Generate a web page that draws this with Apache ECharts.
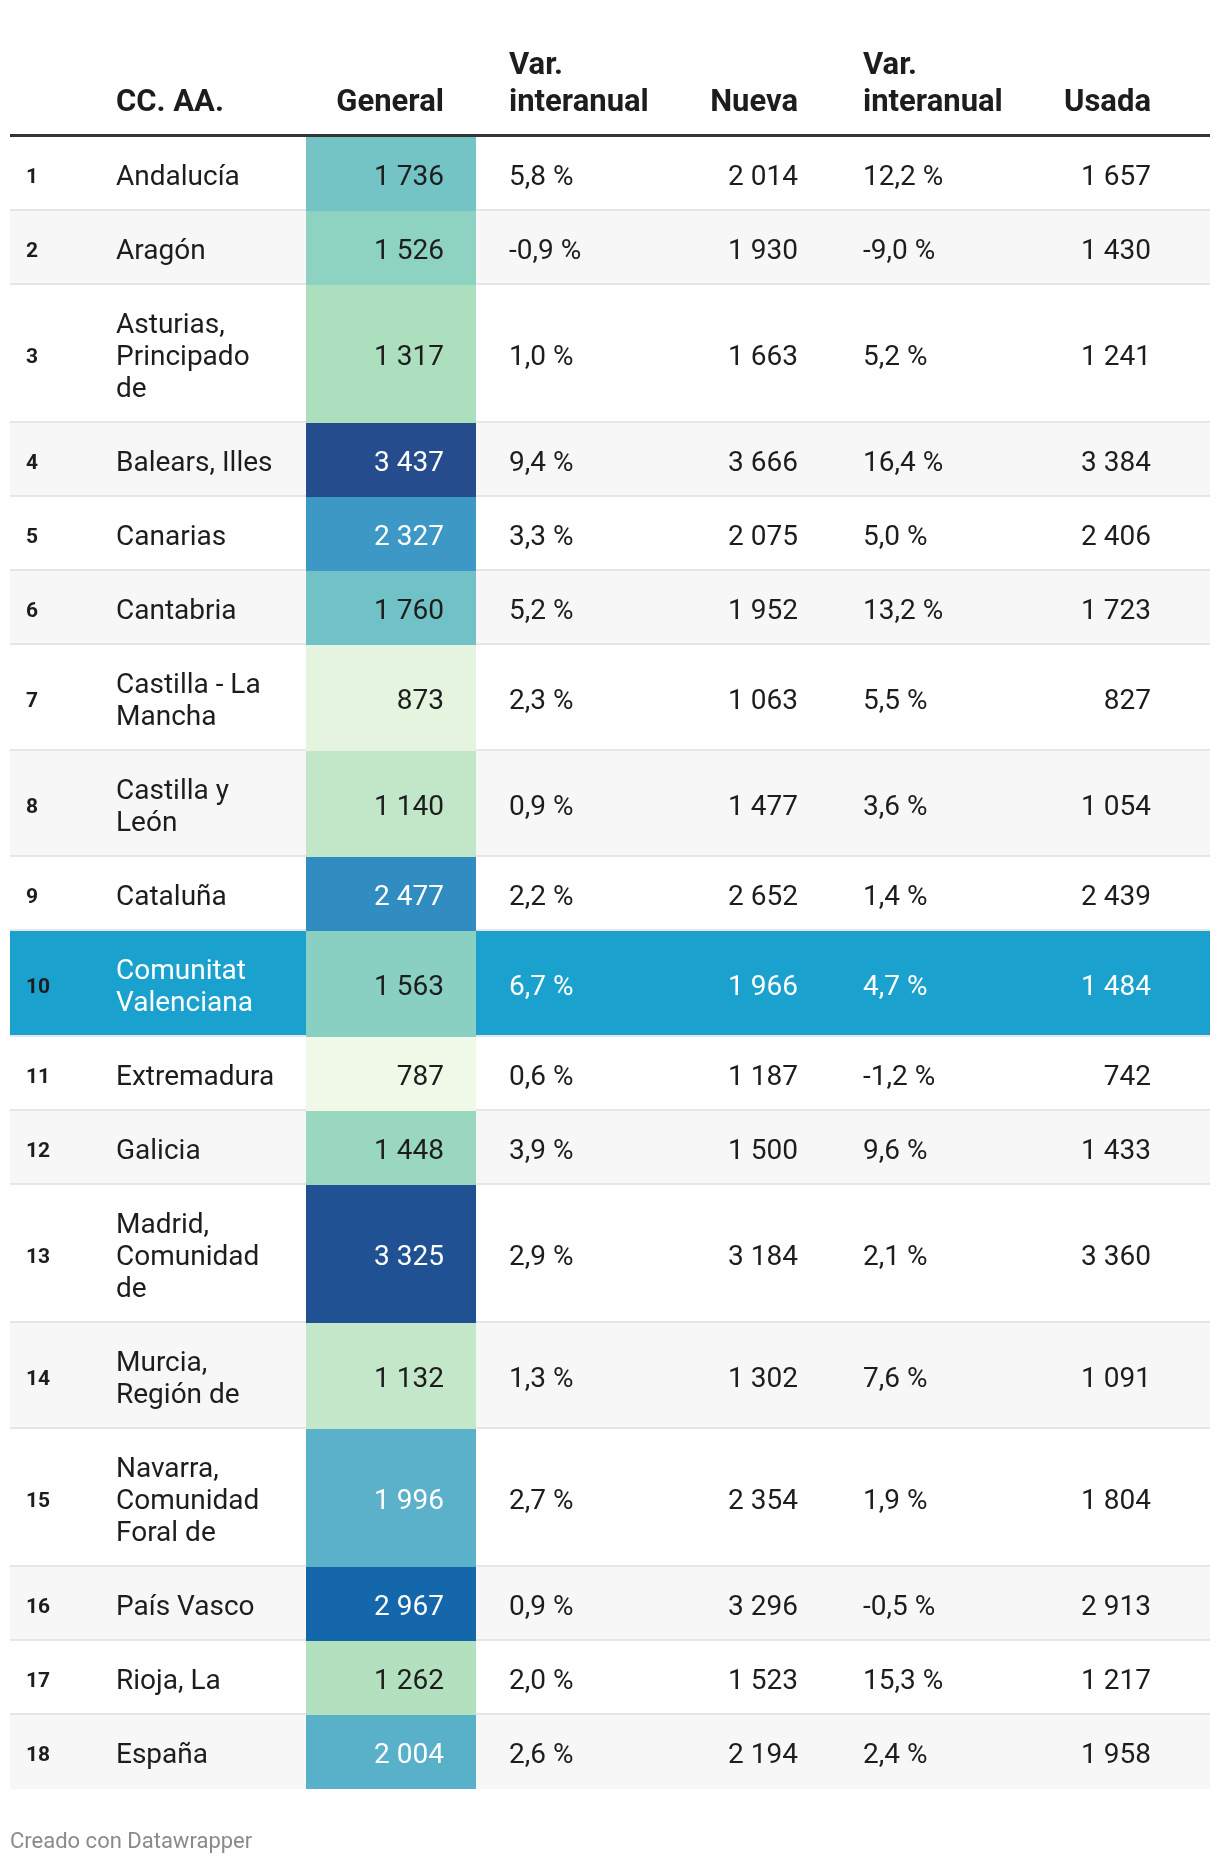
<!DOCTYPE html>
<html>
<head>
<meta charset="utf-8">
<script src="https://cdn.jsdelivr.net/npm/echarts@6/dist/echarts.min.js"></script>
<style>
html,body{margin:0;padding:0;background:#fff;}
#chart{width:1220px;height:1864px;}
</style>
</head>
<body>
<div id="chart"></div>
<script>
// ---- data ----
const ranks = [1,2,3,4,5,6,7,8,9,10,11,12,13,14,15,16,17,18];
const regions = [
  'Andalucía', 'Aragón', 'Asturias,\nPrincipado\nde', 'Balears, Illes', 'Canarias',
  'Cantabria', 'Castilla - La\nMancha', 'Castilla y\nLeón', 'Cataluña',
  'Comunitat\nValenciana', 'Extremadura', 'Galicia', 'Madrid,\nComunidad\nde',
  'Murcia,\nRegión de', 'Navarra,\nComunidad\nForal de', 'País Vasco', 'Rioja, La', 'España'
];
const general = [1736,1526,1317,3437,2327,1760,873,1140,2477,1563,787,1448,3325,1132,1996,2967,1262,2004];
const varGeneral = [5.8,-0.9,1.0,9.4,3.3,5.2,2.3,0.9,2.2,6.7,0.6,3.9,2.9,1.3,2.7,0.9,2.0,2.6];
const nueva = [2014,1930,1663,3666,2075,1952,1063,1477,2652,1966,1187,1500,3184,1302,2354,3296,1523,2194];
const varNueva = [12.2,-9.0,5.2,16.4,5.0,13.2,5.5,3.6,1.4,4.7,-1.2,9.6,2.1,7.6,1.9,-0.5,15.3,2.4];
const usada = [1657,1430,1241,3384,2406,1723,827,1054,2439,1484,742,1433,3360,1091,1804,2913,1217,1958];
const headers = ['', 'CC. AA.', 'General', 'Var.\ninteranual', 'Nueva', 'Var.\ninteranual', 'Usada'];
const highlighted = 'Comunitat\nValenciana';
const footer = 'Creado con Datawrapper';

// ---- layout / style ----
const FONT = 'Roboto, "Noto Sans", sans-serif';
const TEXT = '#1d1d1d';
const X0 = 10, X1 = 1210;
const CELL_L = 306, CELL_R = 476;
const COLS = [
  {x: 26, align: 'left'},    // rank
  {x: 116, align: 'left'},   // region
  {x: 444, align: 'right'},  // general
  {x: 509, align: 'left'},   // var general
  {x: 798, align: 'right'},  // nueva
  {x: 863, align: 'left'},   // var nueva
  {x: 1151, align: 'right'}  // usada
];
const TOP = 137;
const LINE_H = 32;
const ROW_PAD = 42;

const rowTops = [];
const rowHeights = [];
(function () {
  let y = TOP;
  regions.forEach(function (r) {
    const h = ROW_PAD + LINE_H * r.split('\n').length;
    rowTops.push(y); rowHeights.push(h); y += h;
  });
})();

function fmtNum(v) {
  const s = String(Math.round(v));
  return s.replace(/\B(?=(\d{3})+(?!\d))/g, '\u00a0');
}
function fmtPct(v) {
  return v.toFixed(1).replace('.', ',') + '\u00a0%';
}

const chart = echarts.init(document.getElementById('chart'), null, {renderer: 'canvas'});

const headerGraphics = [];
headers.forEach(function (h, i) {
  if (!h) return;
  headerGraphics.push({
    type: 'text',
    x: COLS[i].x, y: 121.5,
    style: {
      text: h, fill: TEXT,
      font: 'bold 31px ' + FONT,
      align: COLS[i].align, verticalAlign: 'bottom', lineHeight: 37
    }
  });
});
headerGraphics.push({
  type: 'rect', shape: {x: X0, y: 134, width: X1 - X0, height: 3},
  style: {fill: '#333333'}
});
headerGraphics.push({
  type: 'text', x: X0, y: 1842,
  style: {text: footer, fill: '#8a8a8a', font: '22px ' + FONT, align: 'left', verticalAlign: 'middle'}
});

chart.setOption({
  animation: false,
  grid: {left: 0, right: 0, top: 0, bottom: 0},
  xAxis: {type: 'value', min: 0, max: 1220, show: false},
  yAxis: {type: 'value', min: 0, max: 1864, inverse: true, show: false},
  visualMap: {
    type: 'continuous', show: false, dimension: 1, seriesIndex: 0,
    min: 787, max: 3437,
    inRange: {color: ['#f0f9e8','#cdebcd','#acdfbd','#86cec2','#67bcc8','#50a8c9','#3994c5','#247fba','#136bb0','#1a5a9c','#254c8d']}
  },
  graphic: headerGraphics,
  series: [{
    type: 'custom',
    clip: false,
    data: ranks.map(function (r, i) { return [i, general[i]]; }),
    renderItem: function (params, api) {
      const i = api.value(0);
      const top = rowTops[i], h = rowHeights[i];
      const pTL = api.coord([X0, top]);
      const pBR = api.coord([X1, top + h]);
      const cL = api.coord([CELL_L, top]);
      const cR = api.coord([CELL_R, top + h]);
      const isHi = regions[i] === highlighted;
      const bg = isHi ? '#1aa1cd' : (i % 2 === 1 ? '#f7f7f7' : '#ffffff');
      const children = [];
      children.push({type: 'rect', shape: {x: pTL[0], y: pTL[1], width: pBR[0] - pTL[0], height: pBR[1] - pTL[1]}, style: {fill: bg}});
      if (i < ranks.length - 1) {
        children.push({type: 'rect', shape: {x: pTL[0], y: pBR[1] - 2, width: pBR[0] - pTL[0], height: 2}, style: {fill: '#e6e6e6'}});
      }
      const col = api.visual('color');
      children.push({type: 'rect', shape: {x: cL[0], y: cL[1], width: cR[0] - cL[0], height: cR[1] - cL[1]}, style: {fill: col}});
      const rgb = echarts.color.parse(col);
      const lum = 0.299 * rgb[0] + 0.587 * rgb[1] + 0.114 * rgb[2];
      const cellText = lum < 162 ? '#ffffff' : TEXT;
      const rowText = isHi ? '#ffffff' : TEXT;
      const cy = (pTL[1] + pBR[1]) / 2 + 3.5;
      const vals = [String(ranks[i]), regions[i], fmtNum(general[i]), fmtPct(varGeneral[i]), fmtNum(nueva[i]), fmtPct(varNueva[i]), fmtNum(usada[i])];
      vals.forEach(function (t, c) {
        const px = api.coord([COLS[c].x, 0])[0];
        children.push({
          type: 'text', x: px, y: cy,
          style: {
            text: t,
            fill: c === 0 ? TEXT : (c === 2 ? cellText : rowText),
            font: c === 0 ? 'bold 21px ' + FONT : '28px ' + FONT,
            align: COLS[c].align, verticalAlign: 'middle', lineHeight: LINE_H
          }
        });
      });
      return {type: 'group', children: children};
    }
  }]
});
</script>
</body>
</html>
